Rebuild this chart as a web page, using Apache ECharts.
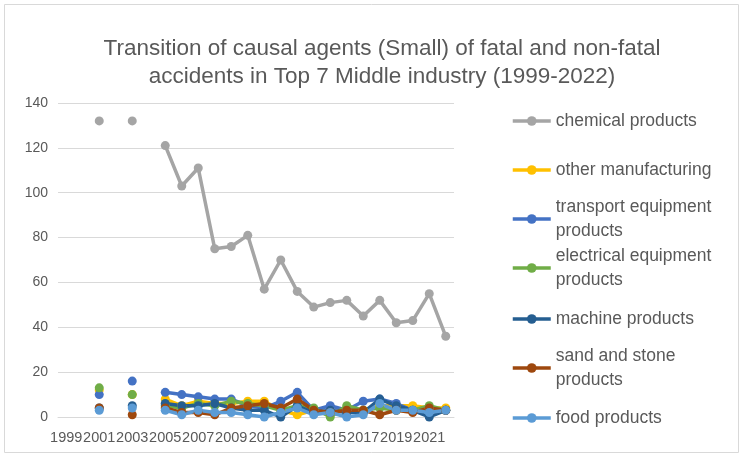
<!DOCTYPE html>
<html>
<head>
<meta charset="utf-8">
<script src="https://cdn.jsdelivr.net/npm/echarts@6/dist/echarts.min.js"></script>
<style>
  html, body { margin: 0; padding: 0; background: #fff; }
  #chart { width: 743px; height: 457px; }
</style>
</head>
<body>
<div id="chart"></div>
<script>
const years = ['1999','2000','2001','2002','2003','2004','2005','2006','2007','2008','2009','2010',
  '2011','2012','2013','2014','2015','2016','2017','2018','2019','2020','2021','2022'];

const chemical = [null,null,132,null,132,null,121,103,111,75,76,81,57,70,56,49,51,52,45,52,42,43,55,36];
const otherManufacturing = [null,null,12,null,10,null,8,5,7,6,6,7,7,3,1,3,2,3,3,5,5,5,4,4];
const transportEquipment = [null,null,10,null,16,null,11,10,9,8,8,5,4,7,11,3,5,3,7,8,6,3,4,3];
const electricalEquipment = [null,null,13,null,10,null,5,4,6,5,7,6,5,3,5,4,0,5,3,4,3,3,5,3];
const machine = [null,null,4,null,5,null,6,5,5,6,4,3,3,0,5,2,3,2,2,8,5,3,0,3];
const sandStone = [null,null,4,null,1,null,4,2,2,1,4,5,6,4,8,3,2,3,3,1,3,2,4,3];
const food = [null,null,3,null,4,null,3,1,3,2,2,1,0,2,4,1,2,0,1,6,3,3,2,3];

const seriesNames = ['chemical products','other manufacturing','transport equipment products',
  'electrical equipment products','machine products','sand and stone products','food products'];
const seriesData = [chemical, otherManufacturing, transportEquipment, electricalEquipment, machine, sandStone, food];
const colors = ['#A5A5A5','#FFC000','#4472C4','#70AD47','#255E91','#9E480E','#5B9BD5'];

// legend labels as Excel wraps them
const legendLabels = ['chemical products','other manufacturing','transport equipment\nproducts',
  'electrical equipment\nproducts','machine products','sand and stone\nproducts','food products'];
const legendCenters = [121, 170, 219, 268, 319, 368, 418];

const font = 'Liberation Sans, Arial, sans-serif';
const textColor = '#595959';
const lineH = 24;

const chart = echarts.init(document.getElementById('chart'));

const legends = seriesNames.map((name, i) => {
  const twoLine = legendLabels[i].indexOf('\n') >= 0;
  return {
    data: [name],
    orient: 'vertical',
    left: 511,
    top: twoLine ? legendCenters[i] - 36 : legendCenters[i] - 12,
    itemWidth: 38,
    itemHeight: 12,
    itemGap: 0,
    padding: 0,
    selectedMode: false,
    lineStyle: { width: 3.5 },
    formatter: () => legendLabels[i],
    textStyle: {
      color: textColor,
      fontFamily: font,
      fontSize: 17.5,
      lineHeight: lineH,
      padding: twoLine ? [lineH, 0, 0, 0] : 0
    }
  };
});

const option = {
  animation: false,
  color: colors,
  title: {
    text: 'Transition of causal agents (Small) of fatal and non-fatal\naccidents in Top 7 Middle industry (1999-2022)',
    left: 377,
    top: 30,
    textAlign: 'center',
    textStyle: {
      color: textColor,
      fontFamily: font,
      fontSize: 22.5,
      fontWeight: 'normal',
      lineHeight: 28
    }
  },
  legend: legends,
  grid: { left: 58, right: 289, top: 103, bottom: 40 },
  xAxis: {
    type: 'category',
    data: years,
    boundaryGap: true,
    axisLine: { lineStyle: { color: '#D9D9D9', width: 1 } },
    axisTick: { show: false },
    axisLabel: {
      interval: 1,
      color: textColor,
      fontFamily: font,
      fontSize: 14.5,
      margin: 13
    }
  },
  yAxis: {
    type: 'value',
    min: 0,
    max: 140,
    interval: 20,
    axisLine: { show: false },
    axisTick: { show: false },
    splitLine: { lineStyle: { color: '#D9D9D9', width: 1 } },
    axisLabel: {
      color: textColor,
      fontFamily: font,
      fontSize: 14,
      margin: 10
    }
  },
  graphic: [{
    type: 'rect',
    shape: { x: 4.5, y: 4.5, width: 734, height: 448 },
    style: { fill: null, stroke: '#D9D9D9', lineWidth: 1 },
    silent: true
  }],
  series: seriesNames.map((name, i) => ({
    name: name,
    type: 'line',
    data: seriesData[i],
    connectNulls: false,
    symbol: 'circle',
    symbolSize: 9,
    showSymbol: true,
    showAllSymbol: true,
    lineStyle: { width: 3.5, color: colors[i] },
    itemStyle: { color: colors[i] }
  }))
};

chart.setOption(option);
</script>
</body>
</html>
